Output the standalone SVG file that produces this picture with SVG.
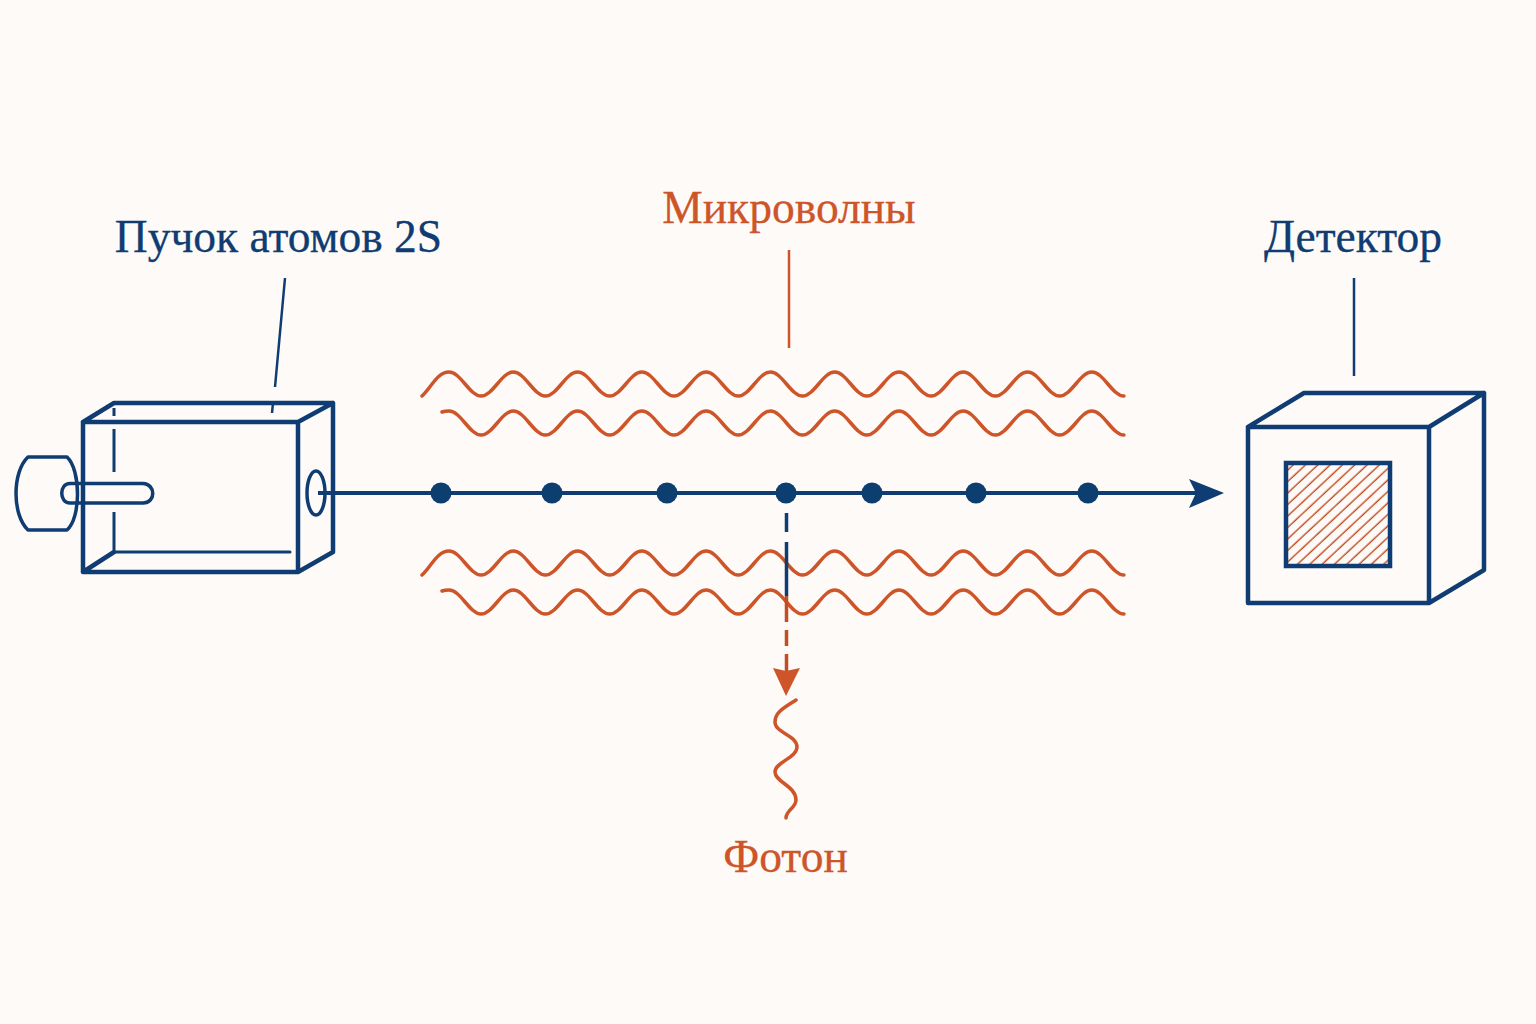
<svg xmlns="http://www.w3.org/2000/svg" width="1536" height="1024" viewBox="0 0 1536 1024">
<style>
.navy{fill:none;stroke:#0f3c72;stroke-width:4.500;stroke-linejoin:round;stroke-linecap:round}
.thin{fill:none;stroke:#0f3c72;stroke-width:2.500}
.org{fill:none;stroke:#cd5529;stroke-width:3.500;stroke-linecap:round;stroke-linejoin:round}
.lbl{font-family:"Liberation Serif","Times New Roman",serif;font-size:45.500px;stroke-width:.3px}
.n{fill:#0f3c72;stroke:#0f3c72}.o{fill:#cd5529;stroke:#cd5529}
.dot{fill:#0c3f6f}
</style>
<defs>
<path id="waveA" d="M422,396 C431,388 437,372 449,372 c11.700,0 20.440,24 32.140,24 s20.440,-24 32.140,-24 s20.440,24 32.140,24 s20.440,-24 32.140,-24 s20.440,24 32.140,24 s20.440,-24 32.140,-24 s20.440,24 32.140,24 s20.440,-24 32.140,-24 s20.440,24 32.140,24 s20.440,-24 32.140,-24 s20.440,24 32.140,24 s20.440,-24 32.140,-24 s20.440,24 32.140,24 s20.440,-24 32.140,-24 s20.440,24 32.140,24 s20.440,-24 32.140,-24 s20.440,24 32.140,24 s20.440,-24 32.140,-24 s20.440,24 32.140,24 s20.440,-24 32.140,-24 s20.440,24 32.140,24"/>
<path id="waveB" d="M442,412 Q445,411 449,411 c11.700,0 20.440,24 32.140,24 s20.440,-24 32.140,-24 s20.440,24 32.140,24 s20.440,-24 32.140,-24 s20.440,24 32.140,24 s20.440,-24 32.140,-24 s20.440,24 32.140,24 s20.440,-24 32.140,-24 s20.440,24 32.140,24 s20.440,-24 32.140,-24 s20.440,24 32.140,24 s20.440,-24 32.140,-24 s20.440,24 32.140,24 s20.440,-24 32.140,-24 s20.440,24 32.140,24 s20.440,-24 32.140,-24 s20.440,24 32.140,24 s20.440,-24 32.140,-24 s20.440,24 32.140,24 s20.440,-24 32.140,-24 s20.440,24 32.140,24"/>
<pattern id="hatch" patternUnits="userSpaceOnUse" width="8.400" height="8.400" patternTransform="rotate(-43)">
<line x1="0" y1="4" x2="8.400" y2="4" stroke="#c4481f" stroke-width="1.400"/>
</pattern>
</defs>
<rect width="1536" height="1024" fill="#fdfaf7"/>
<g id="source">
<path class="navy" d="M83,422 H298 V572 H83 Z M83,422 L114,403 H333 V552 L298,572 M298,422 L333,403 M83,572 L114,552"/>
<path class="navy" style="stroke-width:3" d="M114,552 H290"/>
<path class="thin" style="stroke-width:3" d="M114,408 V416 M114,429 V472 M114,512 V550"/>
<path class="navy" style="stroke-width:3.500" d="M28,457 H67 C81,470 81,518 67,530 H28 C12,515 12,472 28,457 Z"/>
<path class="navy" style="stroke-width:3.500" d="M70,483.500 H143 C156,484 156,503 143,503 H70 C59,503 59,483.500 70,483.500 Z"/>
<ellipse class="navy" style="stroke-width:3.500" cx="316" cy="493" rx="9" ry="22"/>
</g>
<g id="detector">
<path class="navy" d="M1248,427 H1429 V603 H1248 Z M1248,427 L1304,393 H1484 V570 L1429,603 M1429,427 L1484,393"/>
<rect x="1286" y="463" width="104" height="103" fill="url(#hatch)" stroke="#0f3c72" stroke-width="4.500"/>
</g>
<g id="microwaves" class="org">
<use href="#waveA"/>
<use href="#waveB"/>
<use href="#waveA" y="179"/>
<use href="#waveB" y="179"/>
</g>
<g id="connectors">
<path class="thin" d="M285,278 L275,387 M273,403 L272,413 M1354,278 V376"/>
<path d="M789,250 V348" fill="none" stroke="#cd5529" stroke-width="2.500"/>
<path d="M318,493 H1198" fill="none" stroke="#0f3c72" stroke-width="4"/>
<path class="n" style="stroke:none" d="M1189,479 L1224,493 L1189,508 L1196,493 Z"/>
<path d="M786.500,513 V532 M786.500,542 V596" fill="none" stroke="#0f3c72" stroke-width="3.500"/>
<path d="M786.500,596 V622 M786.500,630 V646 M786.500,654 V672" fill="none" stroke="#c44c22" stroke-width="3.500"/>
<path class="o" style="stroke:none" d="M773,668 L786,671 L800,668 L786,696 Z"/>
<path class="org" d="M796,700 C785,707 775,712 775,722 C775,733 797,735 797,747 C797,758 775,762 775,772 C775,782 796,786 796,800 C796,808 786,810 786,818"/>
</g>
<g id="atoms">
<circle class="dot" cx="441" cy="493" r="10.500"/>
<circle class="dot" cx="552" cy="493" r="10.500"/>
<circle class="dot" cx="667" cy="493" r="10.500"/>
<circle class="dot" cx="786" cy="493" r="10.500"/>
<circle class="dot" cx="872" cy="493" r="10.500"/>
<circle class="dot" cx="976" cy="493" r="10.500"/>
<circle class="dot" cx="1088" cy="493" r="10.500"/>
</g>
<g id="labels">
<text class="lbl n" x="278.500" y="252" text-anchor="middle">Пучок атомов 2S</text>
<text class="lbl o" x="789" y="223" text-anchor="middle">Микроволны</text>
<text class="lbl n" x="1353" y="252" text-anchor="middle">Детектор</text>
<text class="lbl o" x="785.500" y="872" text-anchor="middle">Фотон</text>
</g>
</svg>
